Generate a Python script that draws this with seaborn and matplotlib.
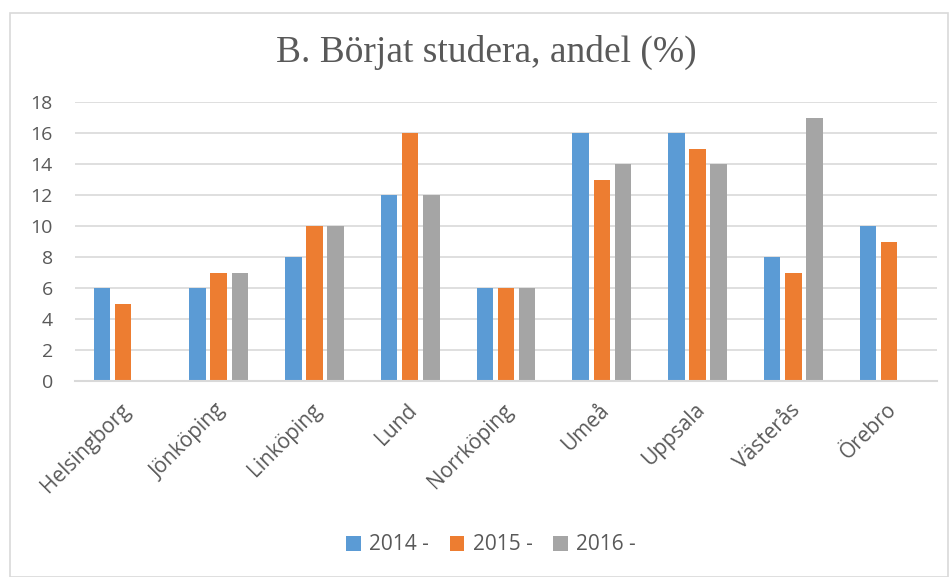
import numpy as np
import pandas as pd
import matplotlib
matplotlib.use("Agg")
import matplotlib.pyplot as plt
import matplotlib.transforms as mtrans
from matplotlib.patches import Rectangle
import seaborn as sns

cities = ["Helsingborg", "Jönköping", "Linköping", "Lund", "Norrköping",
          "Umeå", "Uppsala", "Västerås", "Örebro"]
v2014 = [6, 6, 8, 12, 6, 16, 16, 8, 10]
v2015 = [5, 7, 10, 16, 6, 13, 15, 7, 9]
v2016 = [np.nan, 7, 10, 12, 6, 14, 14, 17, np.nan]
series = ["2014 -", "2015 -", "2016 -"]
colors = ["#5B9BD5", "#ED7D31", "#A5A5A5"]
yticks = [0, 2, 4, 6, 8, 10, 12, 14, 16, 18]
title = "B. Börjat studera, andel (%)"

rows = []
for s, vals in zip(series, [v2014, v2015, v2016]):
    for c, v in zip(cities, vals):
        rows.append({"Stad": c, "År": s, "Andel": v})
df = pd.DataFrame(rows)

sns.set_theme(style="white")
plt.rcParams["font.family"] = ["Open Sans", "DejaVu Sans"]
txt = "#595959"

fig = plt.figure(figsize=(9.53, 5.77), dpi=100)
ax = fig.add_axes([75 / 953, 1 - 381 / 577, 862 / 953, 279 / 577])

sns.barplot(data=df, x="Stad", y="Andel", hue="År", palette=colors,
            order=cities, hue_order=series, width=0.66, gap=0.22,
            saturation=1, linewidth=0, ax=ax, legend=True)

ax.set_ylim(0, 18)
ax.set_xlim(-0.5, len(cities) - 0.5)
ax.set_yticks(yticks)
ax.set_yticklabels([str(t) for t in yticks], fontsize=14, color=txt)
ax.yaxis.grid(True, color="#D9D9D9", linewidth=1.2)
ax.set_axisbelow(True)
for s in ["top", "right", "left"]:
    ax.spines[s].set_visible(False)
ax.spines["bottom"].set_color("#D9D9D9")
ax.spines["bottom"].set_linewidth(1.5)
ax.tick_params(axis="y", length=0, pad=16)
ax.tick_params(axis="x", length=0, pad=0)
ax.set_xlabel("")
ax.set_ylabel("")

off = mtrans.ScaledTranslation(4 / 100, -26 / 100, fig.dpi_scale_trans)
ax.set_xticks(range(len(cities)))
ax.set_xticklabels(cities, rotation=45, ha="right", va="center",
                   rotation_mode="anchor", fontsize=15, color=txt)
for lab in ax.get_xticklabels():
    lab.set_transform(lab.get_transform() + off)

fig.text(486 / 953, 1 - 52 / 577, title, ha="center", va="center",
         fontsize=27, color=txt, family=["Liberation Serif", "DejaVu Serif"])

leg = ax.legend(loc="center", bbox_to_anchor=(491 / 953, 1 - 545 / 577),
                bbox_transform=fig.transFigure, ncol=3, frameon=False,
                fontsize=15, handlelength=0.7, handleheight=0.7,
                columnspacing=1.0, handletextpad=0.4)
for t in leg.get_texts():
    t.set_color(txt)

fig.patches.append(Rectangle((10 / 953, 0.0), 938 / 953, 1 - 13 / 577,
                             transform=fig.transFigure, fill=False,
                             edgecolor="#D9D9D9", linewidth=1.2))

fig.savefig("out.png", dpi=100, facecolor="white")
